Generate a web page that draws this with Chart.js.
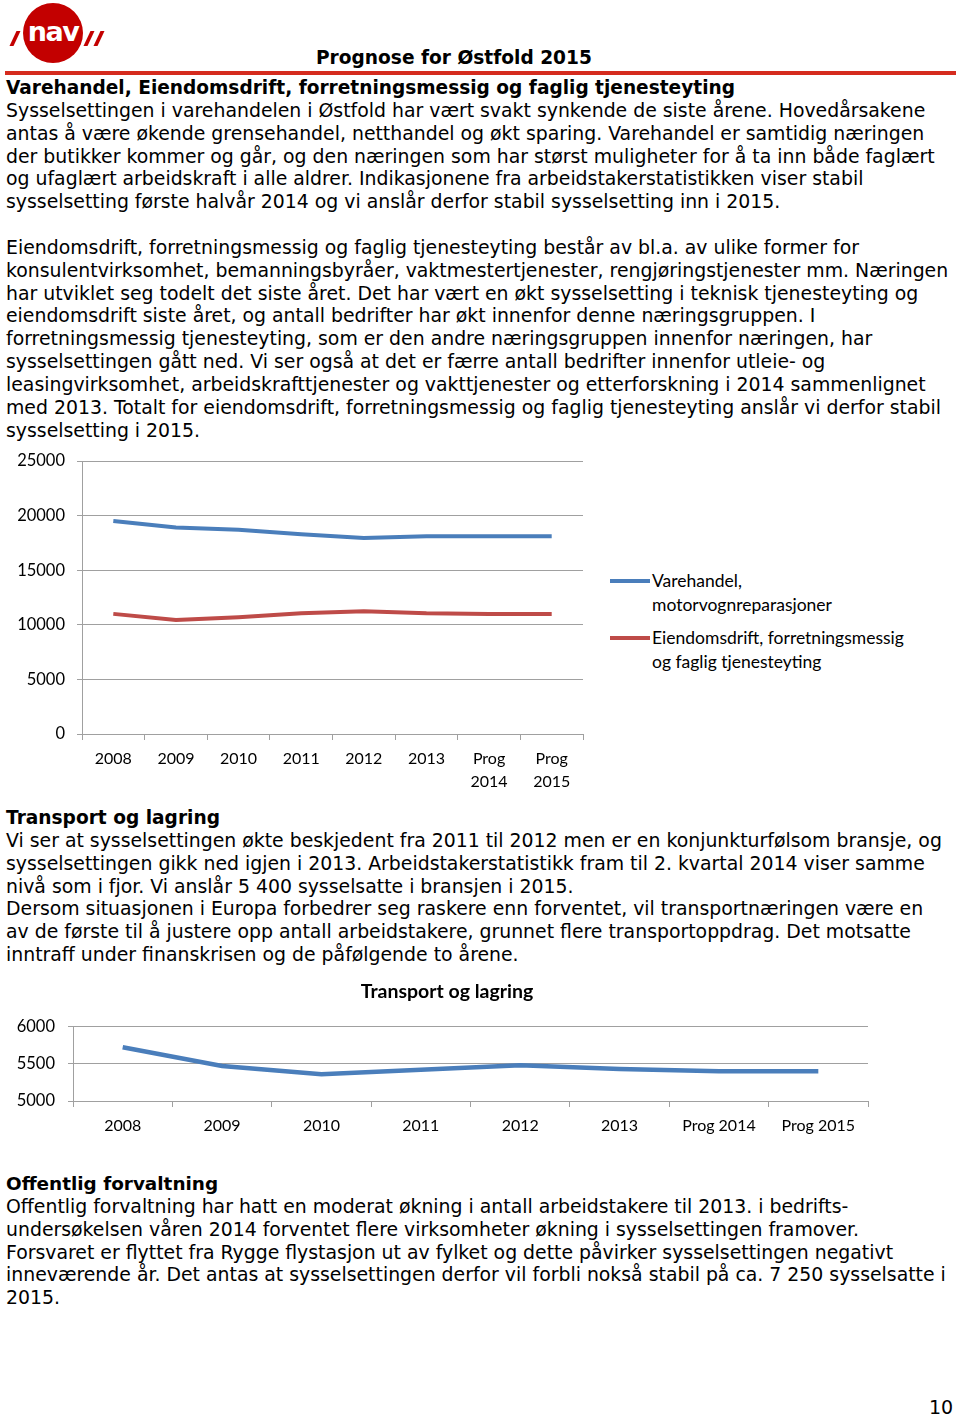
<!DOCTYPE html>
<html><head><meta charset="utf-8">
<script src="https://cdn.jsdelivr.net/npm/chart.js@4.4.1/dist/chart.umd.min.js"></script>
<style>
html,body{margin:0;padding:0;background:#fff;}
body{width:960px;height:1417px;position:relative;overflow:hidden;font-family:"DejaVu Sans",Verdana,sans-serif;color:#000;}
.abs{position:absolute;}
.txt{position:absolute;left:6px;white-space:nowrap;line-height:22.85px;font-size:17px;}
.b{font-weight:bold;}
.hb{display:block;height:22.85px;overflow:visible;}
.leg{position:absolute;left:652px;white-space:nowrap;font-family:Lato,"Open Sans",sans-serif;font-size:17.5px;line-height:23.5px;color:#000;}
.sw{position:absolute;left:610px;width:40px;height:4px;}
.sl{position:absolute;width:4px;height:15px;background:#C30000;transform:skewX(-25deg);}
</style></head>
<body>
<!-- logo -->
<div class="sl" style="left:13px;top:31px;"></div>
<div class="abs" style="left:23px;top:3px;width:60px;height:60px;border-radius:50%;background:#C30000;"></div>
<div class="abs" style="left:23px;top:3px;width:60px;height:60px;line-height:58px;text-align:center;color:#fff;font-weight:bold;font-size:27px;letter-spacing:-1.5px;font-family:'DejaVu Sans';">nav</div>
<div class="sl" style="left:87px;top:31px;"></div>
<div class="sl" style="left:97px;top:31px;"></div>

<div id="hdr" class="abs b" style="left:316px;top:46px;font-size:19px;line-height:24px;white-space:nowrap;">Prognose for Østfold 2015</div>
<div class="abs" style="left:5px;top:71px;width:951px;height:4px;background:#D52B1E;"></div>

<div class="txt" style="top:76px;"><div class="hb"><span class="b" data-w="729">Varehandel, Eiendomsdrift, forretningsmessig og faglig tjenesteyting</span></div>
<span id="m1">Sysselsettingen i varehandelen i Østfold har vært svakt synkende de siste årene. Hovedårsakene</span><br>
antas å være økende grensehandel, netthandel og økt sparing. Varehandel er samtidig næringen<br>
der butikker kommer og går, og den næringen som har størst muligheter for å ta inn både faglært<br>
og ufaglært arbeidskraft i alle aldrer. Indikasjonene fra arbeidstakerstatistikken viser stabil<br>
sysselsetting første halvår 2014 og vi anslår derfor stabil sysselsetting inn i 2015.<br>
&nbsp;<br>
Eiendomsdrift, forretningsmessig og faglig tjenesteyting består av bl.a. av ulike former for<br>
konsulentvirksomhet, bemanningsbyråer, vaktmestertjenester, rengjøringstjenester mm. Næringen<br>
har utviklet seg todelt det siste året. Det har vært en økt sysselsetting i teknisk tjenesteyting og<br>
eiendomsdrift siste året, og antall bedrifter har økt innenfor denne næringsgruppen. I<br>
forretningsmessig tjenesteyting, som er den andre næringsgruppen innenfor næringen, har<br>
sysselsettingen gått ned. Vi ser også at det er færre antall bedrifter innenfor utleie- og<br>
leasingvirksomhet, arbeidskrafttjenester og vakttjenester og etterforskning i 2014 sammenlignet<br>
med 2013. Totalt for eiendomsdrift, forretningsmessig og faglig tjenesteyting anslår vi derfor stabil<br>
sysselsetting i 2015.</div>

<canvas id="c1" width="590" height="350" style="position:absolute;left:0;top:450px;width:590px;height:350px;"></canvas>
<div class="sw" style="top:579px;background:#4A7EBB;"></div>
<div class="leg" style="top:569px;">Varehandel,<br>motorvognreparasjoner</div>
<div class="sw" style="top:636px;background:#BE4B48;"></div>
<div class="leg" style="top:626px;">Eiendomsdrift, forretningsmessig<br>og faglig tjenesteyting</div>

<div class="txt" style="top:806px;"><div class="hb"><span class="b" data-w="214">Transport og lagring</span></div>
Vi ser at sysselsettingen økte beskjedent fra 2011 til 2012 men er en konjunkturfølsom bransje, og<br>
sysselsettingen gikk ned igjen i 2013. Arbeidstakerstatistikk fram til 2. kvartal 2014 viser samme<br>
nivå som i fjor. Vi anslår 5 400 sysselsatte i bransjen i 2015.<br>
Dersom situasjonen i Europa forbedrer seg raskere enn forventet, vil transportnæringen være en<br>
av de første til å justere opp antall arbeidstakere, grunnet flere transportoppdrag. Det motsatte<br>
inntraff under finanskrisen og de påfølgende to årene.</div>

<canvas id="c2" width="890" height="165" style="position:absolute;left:0;top:975px;width:890px;height:165px;"></canvas>

<div class="txt" style="top:1172px;"><div class="hb"><span class="b" data-w="212">Offentlig forvaltning</span></div>
Offentlig forvaltning har hatt en moderat økning i antall arbeidstakere til 2013. i bedrifts-<br>
undersøkelsen våren 2014 forventet flere virksomheter økning i sysselsettingen framover.<br>
Forsvaret er flyttet fra Rygge flystasjon ut av fylket og dette påvirker sysselsettingen negativt<br>
inneværende år. Det antas at sysselsettingen derfor vil forbli nokså stabil på ca. 7 250 sysselsatte i<br>
2015.</div>

<div class="abs" style="left:929px;top:1395px;font-size:19px;line-height:24px;">10</div>

<script>
// ---- data ----
const categories1 = ['2008','2009','2010','2011','2012','2013',['Prog','2014'],['Prog','2015']];
const categories2 = ['2008','2009','2010','2011','2012','2013','Prog 2014','Prog 2015'];
const varehandel = [19500, 18900, 18700, 18300, 17950, 18100, 18100, 18100];
const eiendom    = [11000, 10450, 10700, 11050, 11250, 11050, 11000, 11000];
const transport  = [5720, 5470, 5360, 5420, 5480, 5430, 5400, 5400];
const seriesNames = ['Varehandel, motorvognreparasjoner','Eiendomsdrift, forretningsmessig og faglig tjenesteyting'];
const chart2Title = 'Transport og lagring';

function fitText(){
  const m = document.getElementById('m1');
  const w = m.getBoundingClientRect().width;
  const f = 17 * 920 / w;
  document.querySelectorAll('.txt').forEach(e => e.style.fontSize = f + 'px');
  document.querySelectorAll('[data-w]').forEach(e => {
    const bw = e.getBoundingClientRect().width;
    e.style.fontSize = (f * parseFloat(e.dataset.w) / bw) + 'px';
  });
  const h = document.getElementById('hdr');
  const hw = h.getBoundingClientRect().width;
  h.style.fontSize = (19 * 276 / hw) + 'px';
}

function draw(){
  fitText();
  const gridColor = '#A0A0A0';
  const tickFont = {family:'Lato', size:16, lineHeight:1.45};
  const fmt = v => String(v);
  new Chart(document.getElementById('c1'), {
    type:'line',
    data:{labels:categories1, datasets:[
      {label:seriesNames[0], data:varehandel, borderColor:'#4A7EBB', borderWidth:4, pointRadius:0, tension:0, fill:false},
      {label:seriesNames[1], data:eiendom, borderColor:'#BE4B48', borderWidth:4, pointRadius:0, tension:0, fill:false}
    ]},
    options:{
      responsive:false, animation:false, devicePixelRatio:1,
      layout:{padding:{top:11,right:7,left:0,bottom:0}},
      plugins:{legend:{display:false}, tooltip:{enabled:false}},
      scales:{
        x:{offset:true,
           grid:{offset:true, drawOnChartArea:false, drawTicks:true, tickLength:6, color:gridColor},
           border:{color:gridColor},
           ticks:{color:'#000', font:tickFont, padding:7, maxRotation:0, autoSkip:false},
           afterFit:s=>{s.height=66;}},
        y:{min:0, max:25000,
           ticks:{stepSize:5000, color:'#000', font:{family:'Lato', size:16.5}, padding:12, callback:fmt},
           grid:{color:gridColor, tickLength:5},
           border:{color:gridColor},
           afterFit:s=>{s.width=82; s.paddingTop=0; s.paddingBottom=0;}}
      }
    }
  });
  new Chart(document.getElementById('c2'), {
    type:'line',
    data:{labels:categories2, datasets:[
      {label:chart2Title, data:transport, borderColor:'#4A7EBB', borderWidth:4.5, pointRadius:0, tension:0, fill:false, yAxisID:'y'}
    ]},
    options:{
      responsive:false, animation:false, devicePixelRatio:1,
      layout:{padding:{top:0,right:13,left:17,bottom:0}},
      plugins:{legend:{display:false}, tooltip:{enabled:false},
        title:{display:true, text:chart2Title, color:'#000', font:{family:'Lato', size:19.5, weight:'bold'}, padding:{top:5,bottom:23}}},
      scales:{
        x:{offset:true,
           grid:{offset:true, drawOnChartArea:false, drawTicks:true, tickLength:6, color:gridColor},
           border:{color:gridColor},
           ticks:{color:'#000', font:tickFont, padding:7, maxRotation:0, autoSkip:false},
           afterFit:s=>{s.height=39;}},
        y:{min:5000, max:6000,
           ticks:{stepSize:500, color:'#000', font:{family:'Lato', size:16.5}, padding:13, callback:fmt},
           grid:{color:gridColor, tickLength:5},
           border:{color:gridColor},
           afterFit:s=>{s.width=56;}},
        yr:{position:'right', min:5000, max:6000, display:true,
           ticks:{display:false}, grid:{display:false, drawTicks:false}, border:{display:false},
           afterFit:s=>{s.width=9; s.paddingTop=0; s.paddingBottom=0;}}
      }
    }
  });
}
Promise.all([document.fonts.load('16px Lato'), document.fonts.load('bold 18px Lato'), document.fonts.load('17px "DejaVu Sans"')]).then(draw, draw);
</script>
</body></html>
